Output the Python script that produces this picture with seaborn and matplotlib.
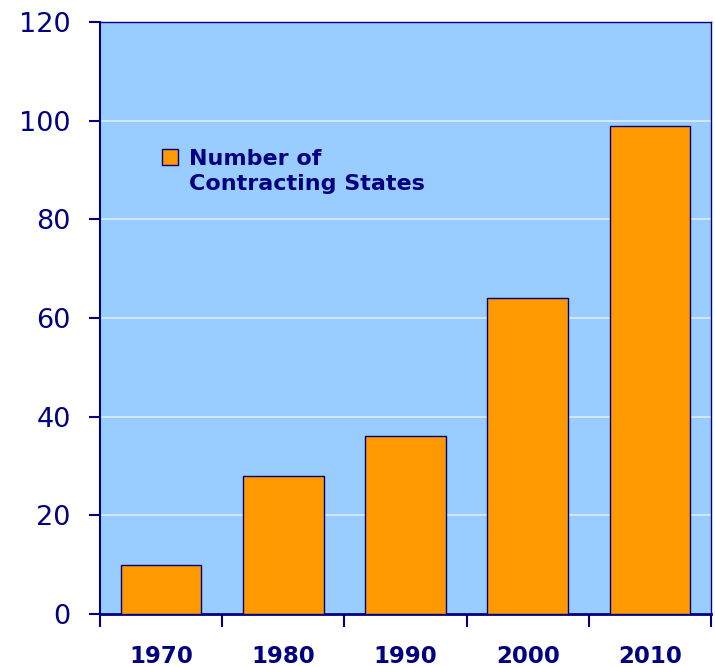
import pandas as pd
import seaborn as sns
import matplotlib.pyplot as plt
from matplotlib.patches import Patch
from matplotlib.ticker import FixedLocator

# data
years = ['1970', '1980', '1990', '2000', '2010']
contracting_states = [10, 28, 36, 64, 99]
y_ticks = [0, 20, 40, 60, 80, 100, 120]
legend_lines = ['Number of', 'Contracting States']

df = pd.DataFrame({'Year': years, 'States': contracting_states})

navy = '#000080'
bg = '#99CCFF'
orange = '#FF9900'

sns.set_theme(style='white')
plt.rcParams['font.family'] = ['DejaVu Sans']

fig = plt.figure(figsize=(7.15, 6.67), dpi=100)
ax = fig.add_axes([0.1399, 0.0795, 0.8545, 0.8876])
ax.set_facecolor(bg)

sns.barplot(data=df, x='Year', y='States', color=orange, saturation=1,
            width=0.66, edgecolor=navy, linewidth=1.0, ax=ax, zorder=3)

ax.set_ylim(0, 120)
ax.set_xlim(-0.5, len(years) - 0.5)
ax.set_yticks(y_ticks)
ax.yaxis.grid(True, color='#D6E9FF', linewidth=1.3, zorder=0)
ax.set_axisbelow(True)

# y tick labels
ax.tick_params(axis='y', direction='out', length=8, width=1.5, color=navy,
               labelcolor=navy, labelsize=19.5, pad=13, left=True)

# x labels at bar centres, tick marks between categories
ax.tick_params(axis='x', which='major', length=0, labelcolor=navy,
               labelsize=16.5, pad=22)
for lbl in ax.get_xticklabels():
    lbl.set_fontweight('bold')
ax.xaxis.set_minor_locator(FixedLocator([i - 0.5 for i in range(len(years) + 1)]))
ax.tick_params(axis='x', which='minor', direction='out', length=9, width=1.5,
               color=navy, bottom=True)

ax.set_xlabel('')
ax.set_ylabel('')

for side in ['left', 'bottom', 'top', 'right']:
    ax.spines[side].set_visible(True)
    ax.spines[side].set_color(navy)
ax.spines['left'].set_linewidth(1.5)
ax.spines['bottom'].set_linewidth(2)
ax.spines['top'].set_linewidth(1)
ax.spines['right'].set_linewidth(1)

# legend: square marker next to the first line, second line below it
handle = Patch(facecolor=orange, edgecolor=navy, linewidth=1)
leg = ax.legend([handle], [legend_lines[0]],
                loc='upper left', bbox_to_anchor=(0.1015, 0.786),
                borderaxespad=0, borderpad=0,
                frameon=False, handlelength=0.72, handleheight=0.72,
                handletextpad=0.5, prop={'size': 16, 'weight': 'bold'})
first = leg.get_texts()[0]
first.set_color(navy)
ax.annotate(legend_lines[1], xy=(0, 0), xycoords=first,
            xytext=(0, -25), textcoords='offset pixels',
            ha='left', va='bottom', fontsize=16, fontweight='bold',
            color=navy, zorder=10)

plt.savefig('out.png', dpi=100)
